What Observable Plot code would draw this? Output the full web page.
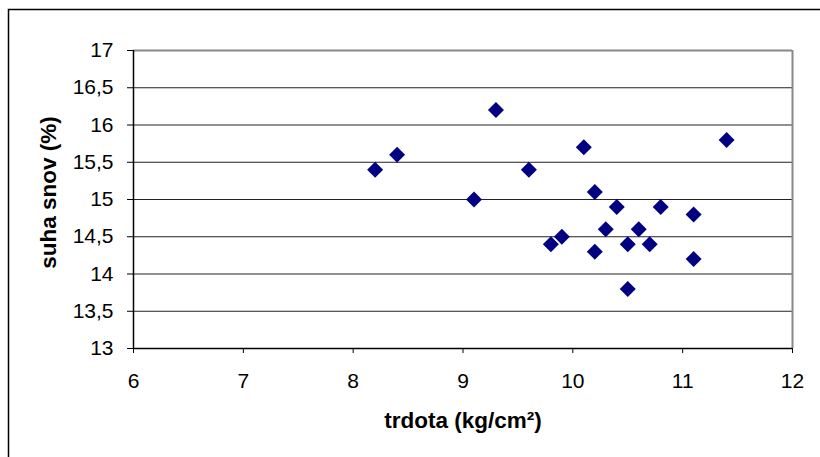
<!DOCTYPE html>
<html>
<head>
<meta charset="utf-8">
<script src="https://cdn.jsdelivr.net/npm/d3@7"></script>
<script src="https://cdn.jsdelivr.net/npm/@observablehq/plot@0.6"></script>
<style>
  html, body { margin: 0; padding: 0; background: #fff; }
  #chart svg { display: block; font-family: "Liberation Sans", Arial, sans-serif; }
</style>
</head>
<body>
<div id="chart"></div>
<script>
// Data
const trdota = [8.2, 8.4, 9.1, 9.3, 9.6, 9.8, 9.9, 10.1, 10.2, 10.2, 10.3, 10.4, 10.5, 10.5, 10.6, 10.7, 10.8, 11.1, 11.1, 11.4];
const suhaSnov = [15.4, 15.6, 15.0, 16.2, 15.4, 14.4, 14.5, 15.7, 15.1, 14.3, 14.6, 14.9, 14.4, 13.8, 14.6, 14.4, 14.9, 14.8, 14.2, 15.8];
const xTicks = [6, 7, 8, 9, 10, 11, 12];
const yTicks = [13, 13.5, 14, 14.5, 15, 15.5, 16, 16.5, 17];
const xTitle = "trdota (kg/cm²)";
const yTitle = "suha snov (%)";

const points = trdota.map((x, i) => ({x, y: suhaSnov[i]}));
const fmt = d => String(d).replace(".", ",");

const chart = Plot.plot({
  width: 820,
  height: 457,
  marginLeft: 133,
  marginRight: 28,
  marginTop: 50,
  marginBottom: 109,
  style: {fontFamily: "'Liberation Sans', Arial, sans-serif", background: "#fff", overflow: "visible"},
  x: {domain: [6, 12]},
  y: {domain: [13, 17]},
  marks: [
    Plot.ruleY(yTicks.filter(d => d > 13 && d < 17), {stroke: "#222", strokeWidth: 1}),
    Plot.ruleY([17], {stroke: "#888", strokeWidth: 2}),
    Plot.ruleX([12], {stroke: "#888", strokeWidth: 2}),
    Plot.ruleX([6], {stroke: "#000", strokeWidth: 1.5}),
    Plot.ruleY([13], {stroke: "#000", strokeWidth: 1.5}),
    Plot.axisX({ticks: xTicks, tickSize: 5, tickPadding: 20, fontSize: 21, label: null, tickFormat: fmt, stroke: "#000", color: "#000"}),
    Plot.axisY({ticks: yTicks, tickSize: 6, tickPadding: 14, fontSize: 21, label: null, tickFormat: fmt, stroke: "#000", color: "#000"}),
    Plot.dot(points, {x: "x", y: "y", symbol: "diamond2", r: 7.2, fill: "#000080", stroke: "none"}),
    Plot.text([xTitle], {frameAnchor: "bottom", dy: 79, lineAnchor: "bottom", textAnchor: "middle", text: d => d, fontSize: 22.5, fontWeight: "bold", fill: "#000"}),
    Plot.text([yTitle], {frameAnchor: "left", dx: -78, dy: -7, rotate: -90, lineAnchor: "bottom", textAnchor: "middle", text: d => d, fontSize: 22.5, fontWeight: "bold", fill: "#000"})
  ]
});

// outer chart-area border (decoration)
d3.select(chart).append("rect")
  .attr("x", 8.5).attr("y", 9.5).attr("width", 900).attr("height", 900)
  .attr("fill", "none").attr("stroke", "#000").attr("stroke-width", 1.5);

document.getElementById("chart").appendChild(chart);
</script>
</body>
</html>
